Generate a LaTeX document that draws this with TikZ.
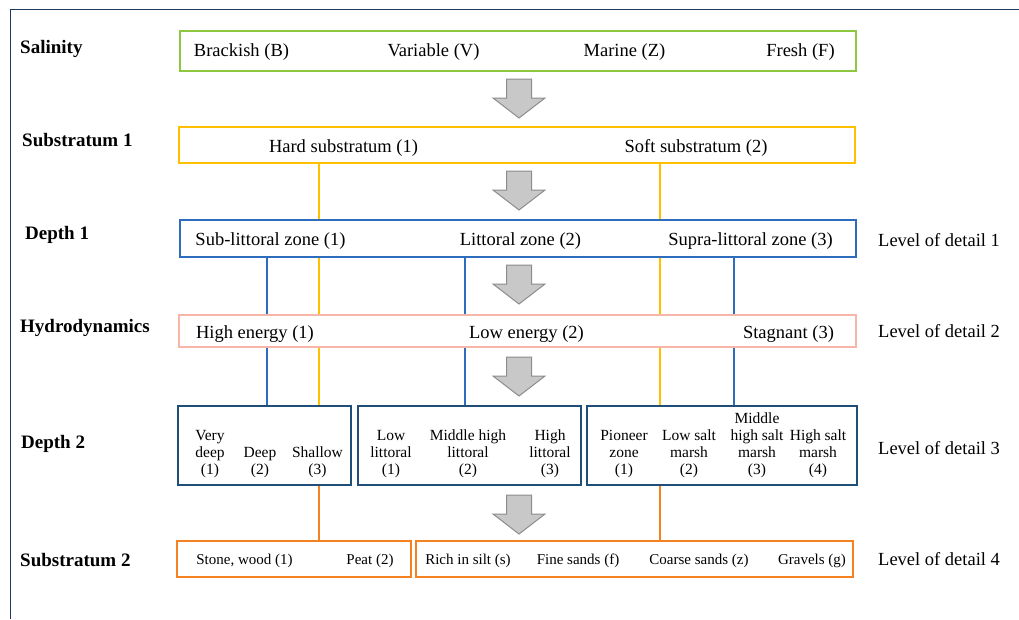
\documentclass[tikz,border=0pt]{standalone}
\usepackage{fontspec}
\setmainfont{Liberation Serif}
\usetikzlibrary{positioning, calc}
\definecolor{cgreen}{HTML}{8DC63F}
\definecolor{cgold}{HTML}{FFC000}
\definecolor{cblue}{HTML}{2E6DBE}
\definecolor{csalmon}{HTML}{F8B6A8}
\definecolor{cnavy}{HTML}{1F4E79}
\definecolor{corange}{HTML}{F58220}
\definecolor{cframe}{HTML}{1F3A60}
\definecolor{agrey}{HTML}{C8C8C8}
\definecolor{aedge}{HTML}{8C8C8C}
\tikzset{
  band/.style={draw=#1, line width=2.5pt, inner sep=0pt},
  link/.style={draw=#1, line width=2pt},
  rowname/.style={font=\fontsize{19}{22}\selectfont\bfseries, anchor=west, inner sep=0pt},
  item/.style={font=\fontsize{18.5}{22}\selectfont, inner sep=0pt},
  subitem/.style={font=\fontsize{15.5}{17}\selectfont, align=center, anchor=south, inner sep=0pt},
  smallitem/.style={font=\fontsize{15}{17}\selectfont, inner sep=0pt},
  level/.style={font=\fontsize{18.5}{22}\selectfont, anchor=west, inner sep=0pt},
  bigarrow/.style={fill=agrey, draw=aedge, line width=1pt},
}

\begin{document}
\begin{tikzpicture}[x=1pt, y=-1pt]
  \useasboundingbox (0,0) rectangle (1019,619);
  \draw[cframe, line width=1pt] (1019,9) -- (10,9) -- (10,619);
  % row names
  \foreach \n/\x/\y/\t in {sal/20/49/Salinity, subA/22/140/Substratum 1, depA/25/235/Depth 1,
      hyd/20/328/Hydrodynamics, depB/21/444/Depth 2, subB/20/560/Substratum 2} {
    \node[rowname] (name-\n) at (\x,\y) {\t};
  }
  % boxes
  \node[band=cgreen, minimum width=676pt, minimum height=40pt] (sal) at (518,51) {};
  \node[band=cgold, minimum width=676pt, minimum height=36pt] (sub1) at (517,145) {};
  \node[band=cblue, minimum width=676pt, minimum height=37pt] (dep1) at (518,238.5) {};
  \node[band=csalmon, minimum width=677pt, minimum height=32pt] (hyd) at (517.5,331) {};
  \node[band=cnavy, minimum width=173pt, minimum height=79pt] (d2a) at (264.5,445.5) {};
  \node[band=cnavy, minimum width=223pt, minimum height=79pt] (d2b) at (469.5,445.5) {};
  \node[band=cnavy, minimum width=270pt, minimum height=79pt] (d2c) at (722,445.5) {};
  \node[band=corange, minimum width=234pt, minimum height=36pt] (s2a) at (294,559) {};
  \node[band=corange, minimum width=437pt, minimum height=36pt] (s2b) at (634.5,559) {};
  % box texts
  \foreach \n/\x/\t in {b/241.5/Brackish (B), v/433.5/Variable (V), z/624.5/Marine (Z), f/800.5/Fresh (F)}
    \node[item] (sal-\n) at (\x,52.5) {\t};
  \foreach \n/\x/\t in {1/343.5/Hard substratum (1), 2/696/Soft substratum (2)}
    \node[item] (sub1-\n) at (\x,148) {\t};
  \foreach \n/\x/\t in {1/270.5/Sub-littoral zone (1), 2/520.5/Littoral zone (2), 3/750.5/Supra-littoral zone (3)}
    \node[item] (dep1-\n) at (\x,241) {\t};
  \foreach \n/\x/\t in {1/255/High energy (1), 2/526.5/Low energy (2), 3/788.5/Stagnant (3)}
    \node[item] (hyd-\n) at (\x,334) {\t};
  \foreach \n/\x/\t in {a1/210/Very\\deep\\(1), a2/260/Deep\\(2), a3/317.5/Shallow\\(3),
      b1/391/Low\\littoral\\(1), b2/468/Middle high\\littoral\\(2), b3/550/High\\littoral\\(3),
      c1/624/Pioneer\\zone\\(1), c2/689/Low salt\\marsh\\(2), c3/757/Middle\\high salt\\marsh\\(3),
      c4/818/High salt\\marsh\\(4)}
    \node[subitem] (d2-\n) at (\x,478) {\t};
  \foreach \n/\x/\t in {a1/244.5/{Stone, wood (1)}, a2/370/Peat (2), b1/468/Rich in silt (s),
      b2/578/Fine sands (f), b3/699/Coarse sands (z), b4/812/Gravels (g)}
    \node[smallitem] (s2-\n) at (\x,560.5) {\t};
  % levels of detail
  \foreach \i/\y in {1/240, 2/331, 3/448, 4/559}
    \node[level] (lvl\i) at (878,\y) {Level of detail \i};
  % connecting lines
  \coordinate (ya) at (319,0);
  \coordinate (yc) at (660,0);
  \coordinate (ba) at (267,0);
  \coordinate (bb) at (465,0);
  \coordinate (bc) at (734,0);
  \foreach \c/\b in {ya/d2a, yc/d2c} {
    \draw[link=cgold] (sub1.south -| \c) -- (dep1.north -| \c);
    \draw[link=cgold] (dep1.south -| \c) -- (hyd.north -| \c);
    \draw[link=cgold] (hyd.south -| \c) -- (\b.north -| \c);
  }
  \foreach \c/\b in {ba/d2a, bb/d2b, bc/d2c} {
    \draw[link=cblue] (dep1.south -| \c) -- (hyd.north -| \c);
    \draw[link=cblue] (hyd.south -| \c) -- (\b.north -| \c);
  }
  \draw[link=corange] (d2a.south -| ya) -- (s2a.north -| ya);
  \draw[link=corange] (d2c.south -| yc) -- (s2b.north -| yc);
  % grey block arrows between rows
  \foreach \t in {79, 171, 265, 357, 495}
    \draw[bigarrow] (506.5,\t) -- (531.5,\t) -- (531.5,\t+19) -- (545,\t+19) -- (519,\t+39)
      -- (493,\t+19) -- (506.5,\t+19) -- cycle;
\end{tikzpicture}
\end{document}
